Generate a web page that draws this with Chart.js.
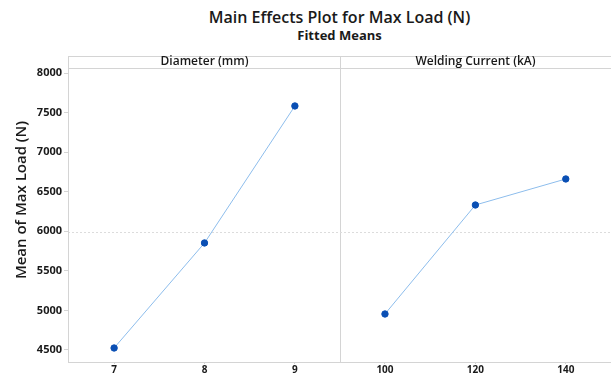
<!DOCTYPE html>
<html>
<head>
<meta charset="utf-8">
<script src="https://cdn.jsdelivr.net/npm/chart.js"></script>
<style>
  body { margin: 0; background: #fff; }
  #wrap { position: relative; width: 611px; height: 376px; font-family: "Open Sans", sans-serif; }
  .t { position: absolute; left: 68px; width: 543px; text-align: center; color: #1a1a1a; white-space: nowrap; }
  #c1 { position: absolute; left: 0; top: 0; }
  #c2 { position: absolute; left: 340px; top: 0; }
</style>
</head>
<body>
<div id="wrap">
  <div class="t" style="top:6px;font-size:16px;font-weight:600">Main Effects Plot for Max Load (N)</div>
  <div class="t" style="top:26px;font-size:13px;font-weight:700">Fitted Means</div>
  <canvas id="c1" width="341" height="376"></canvas>
  <canvas id="c2" width="271" height="376"></canvas>
</div>

<script>
// data
const diameterLevels = [7, 8, 9];
const diameterMeans = [4525, 5853, 7585];
const currentLevels = [100, 120, 140];
const currentMeans = [4955, 6333, 6662];
const yTicks = [4500, 5000, 5500, 6000, 6500, 7000, 7500, 8000];
const overallMean = 5990;

const yMin = 4348, yMax = 8065;
const gray = '#d4d4d4';
const tickFont = { family: 'Open Sans', size: 11, weight: 'bold' };

// strip header, panel border and dashed mean line
const panelPlugin = {
  id: 'panel',
  beforeDatasetsDraw(chart) {
    const { ctx, chartArea: a, scales } = chart;
    const opts = chart.options.plugins.panel;
    const yRef = scales.y.getPixelForValue(overallMean);
    ctx.save();
    ctx.strokeStyle = '#dcdcdc';
    ctx.setLineDash([2, 2]);
    ctx.lineWidth = 1;
    ctx.beginPath();
    ctx.moveTo(a.left, Math.round(yRef) + 0.5);
    ctx.lineTo(a.right, Math.round(yRef) + 0.5);
    ctx.stroke();
    ctx.setLineDash([]);
    ctx.strokeStyle = gray;
    ctx.beginPath();
    ctx.moveTo(a.left, 56.5); ctx.lineTo(a.right, 56.5);
    ctx.moveTo(a.left, a.top + 0.5); ctx.lineTo(a.right, a.top + 0.5);
    ctx.moveTo(a.left, a.bottom + 0.5); ctx.lineTo(a.right, a.bottom + 0.5);
    if (opts.edges) {
      ctx.moveTo(a.left + 0.5, 56); ctx.lineTo(a.left + 0.5, a.bottom + 1);
      ctx.moveTo(a.right - 0.5, 56); ctx.lineTo(a.right - 0.5, a.bottom + 1);
    }
    ctx.stroke();
    ctx.fillStyle = '#1a1a1a';
    ctx.font = '600 12px "Open Sans"';
    ctx.textAlign = 'center';
    ctx.textBaseline = 'middle';
    ctx.fillText(opts.label, (a.left + a.right) / 2, 62);
    if (opts.yTitle) {
      ctx.translate(22, 200);
      ctx.rotate(-Math.PI / 2);
      ctx.font = '600 15px "Open Sans"';
      ctx.fillText(opts.yTitle, 0, 0);
    }
    ctx.restore();
  }
};

function makePanel(id, levels, means, xMin, xMax, label, showY) {
  return new Chart(document.getElementById(id), {
    type: 'line',
    data: {
      datasets: [{
        data: levels.map((v, i) => ({ x: v, y: means[i] })),
        borderColor: '#8dbdec',
        borderWidth: 1,
        pointBackgroundColor: '#0a4fb4',
        pointBorderColor: '#0a4fb4',
        pointRadius: 3.2,
        tension: 0
      }]
    },
    options: {
      responsive: false,
      animation: false,
      layout: { autoPadding: false, padding: { top: 68, left: 0, right: 0, bottom: 0 } },
      plugins: {
        legend: { display: false },
        tooltip: { enabled: false },
        panel: { label: label, edges: showY, yTitle: showY ? 'Mean of Max Load (N)' : '' }
      },
      scales: {
        x: {
          type: 'linear',
          min: xMin,
          max: xMax,
          afterBuildTicks: s => { s.ticks = levels.map(v => ({ value: v })); },
          afterFit: s => { s.height = 14; s.paddingLeft = 0; s.paddingRight = 0; },
          grid: { drawOnChartArea: false, drawTicks: true, tickLength: 2, color: gray },
          border: { display: false },
          ticks: { color: '#1a1a1a', font: { family: 'Open Sans', size: 10, weight: 'bold' }, padding: 0, maxRotation: 0, callback: v => String(v) }
        },
        y: {
          display: showY,
          min: yMin,
          max: yMax,
          afterBuildTicks: s => { s.ticks = yTicks.map(v => ({ value: v })); },
          afterFit: s => { s.width = showY ? 68 : 0; },
          grid: { drawOnChartArea: false, tickLength: 4, color: gray },
          border: { display: false },
          ticks: { color: '#1a1a1a', font: tickFont, padding: 2, callback: v => String(v) }
        }
      }
    },
    plugins: [panelPlugin]
  });
}

makePanel('c1', diameterLevels, diameterMeans, 6.49, 9.51, 'Diameter (mm)', true);
makePanel('c2', currentLevels, currentMeans, 90.05, 150, 'Welding Current (kA)', false);
</script>
</body>
</html>
